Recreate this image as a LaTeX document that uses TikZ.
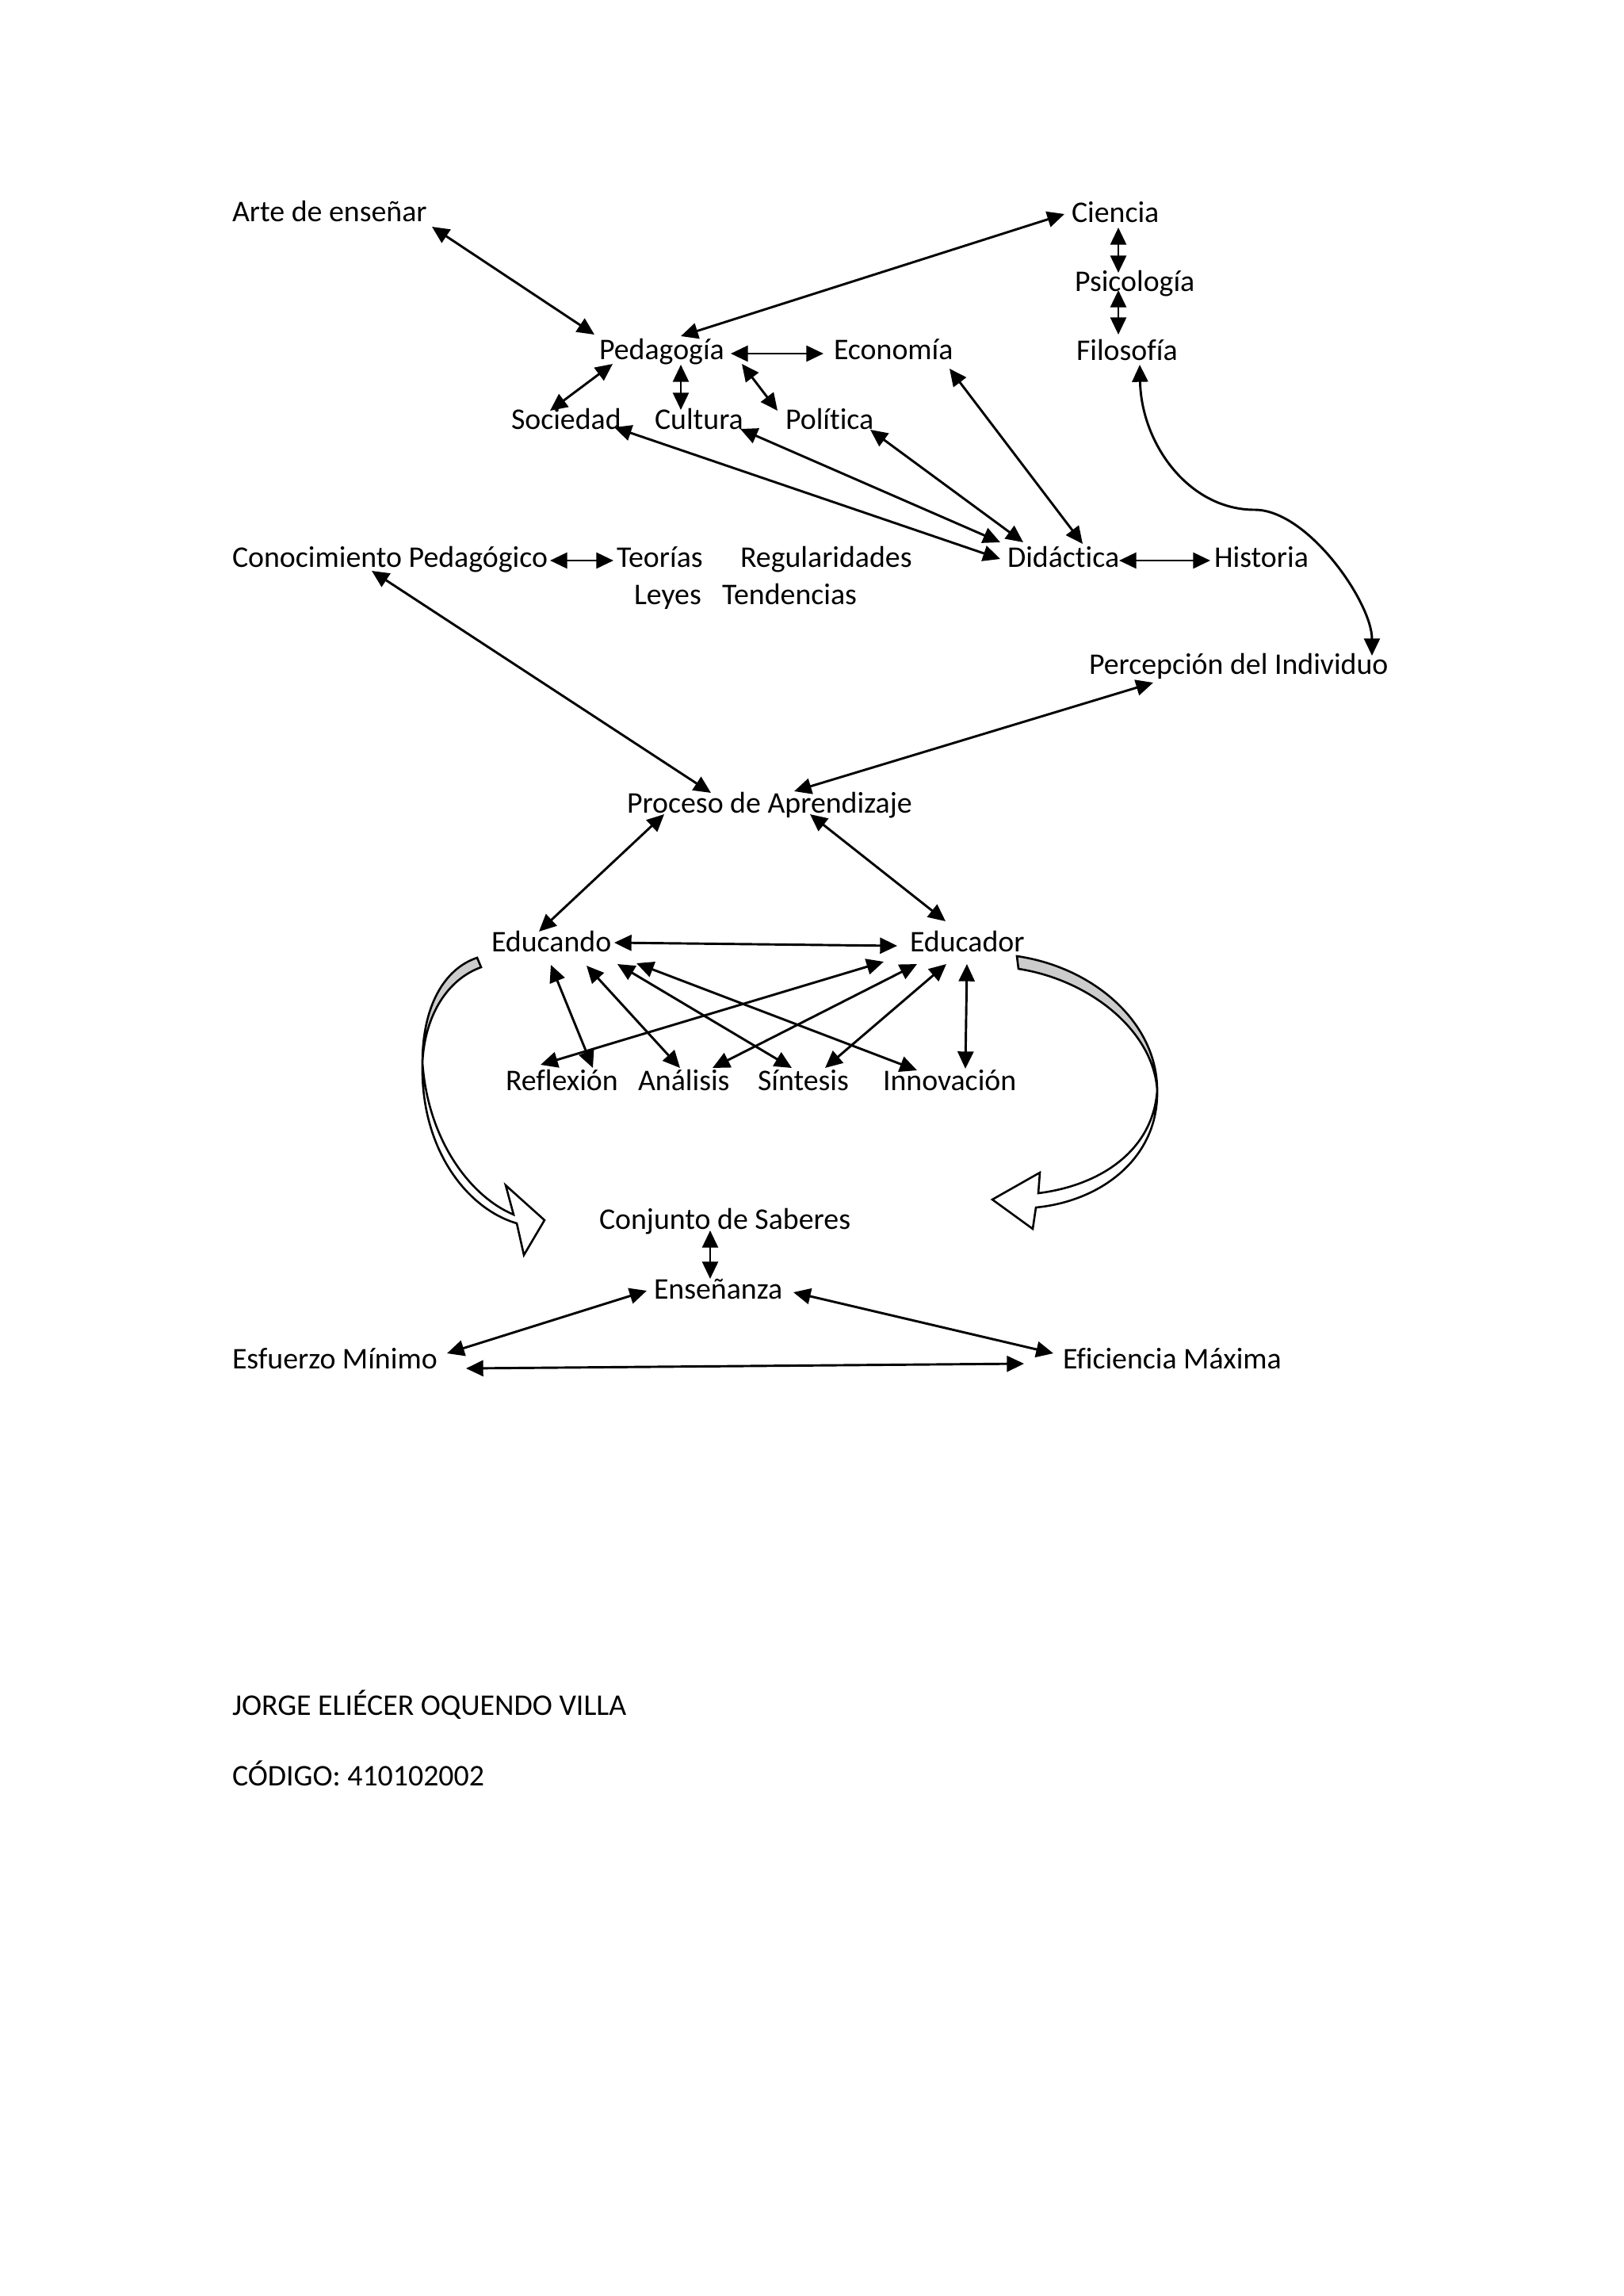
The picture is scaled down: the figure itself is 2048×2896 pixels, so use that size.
\documentclass[tikz,border=0pt]{standalone}
\usepackage{fontspec}
\setmainfont{Carlito}[Ligatures=CommonOff]
\usetikzlibrary{arrows.meta}
\begin{document}
\begin{tikzpicture}[x=0.290664pt,y=-0.290664pt,
  lbl/.style={anchor=base west,inner sep=0pt,outer sep=0pt,font=\fontsize{11pt}{13pt}\selectfont},
  arr/.style={line width=0.85pt,{Triangle[length=6.3pt,width=5.8pt]}-{Triangle[length=6.3pt,width=5.8pt]}},
  band/.style={draw=black,line width=0.75pt,line join=miter}]
\useasboundingbox (0,0) rectangle (2048,2896);

% labels
\node[lbl] (arte) at (293,279) {Arte de enseñar};
\node[lbl] (ciencia) at (1352,280) {Ciencia};
\node[lbl] (psico) at (1356,367) {Psicología};
\node[lbl] (filo) at (1358,454) {Filosofía};
\node[lbl] (ped) at (756,453) {Pedagogía};
\node[lbl] (eco) at (1052,453) {Economía};
\node[lbl] (soc) at (645,541) {Sociedad};
\node[lbl] (cul) at (826,541) {Cultura};
\node[lbl] (pol) at (991,541) {Política};
\node[lbl] (con) at (293,715) {Conocimiento Pedagógico};
\node[lbl] (teo) at (778,715) {Teorías};
\node[lbl] (reg) at (934,715) {Regularidades};
\node[lbl] (did) at (1271,715) {Didáctica};
\node[lbl] (his) at (1532,715) {Historia};
\node[lbl] (ley) at (800,762) {Leyes};
\node[lbl] (ten) at (911,762) {Tendencias};
\node[lbl] (per) at (1374,850) {Percepción del Individuo};
\node[lbl] (pro) at (791,1025) {Proceso de Aprendizaje};
\node[lbl] (edo) at (620,1200) {Educando};
\node[lbl] (edr) at (1148,1200) {Educador};
\node[lbl] (ref) at (638,1375) {Reflexión};
\node[lbl] (ana) at (805,1375) {Análisis};
\node[lbl] (sin) at (956,1375) {Síntesis};
\node[lbl] (inn) at (1114,1375) {Innovación};
\node[lbl] (cjs) at (756,1550) {Conjunto de Saberes};
\node[lbl] (ens) at (825,1638) {Enseñanza};
\node[lbl] (esf) at (293,1726) {Esfuerzo Mínimo};
\node[lbl] (efi) at (1341,1726) {Eficiencia Máxima};
\node[lbl] (jorge) at (293,2163) {JORGE ELIÉCER OQUENDO VILLA};
\node[lbl] (cod) at (293,2252) {CÓDIGO: 410102002};

% top connectors
\draw[arr] ([shift={(252,7)}]arte.base west) -- ([shift={(-6,-31)}]ped.base west);
\draw[arr] ([shift={(103,-29)}]ped.base west) -- ([shift={(-9,-10)}]ciencia.base west);
\draw[arr] ([shift={(166,-7)}]ped.base west) -- ([shift={(-13,-7)}]eco.base west);
\draw[arr] ([shift={(17,6)}]ped.base west) -- ([shift={(49,-23)}]soc.base west);
\draw[arr] ([shift={(103,7)}]ped.base west) -- ([shift={(33,-24)}]cul.base west);
\draw[arr] ([shift={(180,6)}]ped.base west) -- ([shift={(-10,-23)}]pol.base west);
\draw[arr] ([shift={(59,7)}]ciencia.base west) -- ([shift={(55,-23)}]psico.base west);
\draw[arr] ([shift={(55,-1)}]psico.base west) -- ([shift={(53,-32)}]filo.base west);
\draw[arr] ([shift={(80,6)}]filo.base west) .. controls (1440,560) and (1500,643) .. (1583,643)
   .. controls (1650,643) and (1731,760) .. ([shift={(357,-23)}]per.base west);
\draw[arr] ([shift={(146,12)}]eco.base west) -- ([shift={(95,-29)}]did.base west);
\draw[arr] ([shift={(130,-2)}]soc.base west) -- ([shift={(-9,-10)}]did.base west);
\draw[arr] ([shift={(108,0)}]cul.base west) -- ([shift={(-9,-31)}]did.base west);
\draw[arr] ([shift={(107,1)}]pol.base west) -- ([shift={(20,-31)}]did.base west);
\draw[arr] ([shift={(141,-8)}]did.base west) -- ([shift={(-5,-8)}]his.base west);
\draw[arr] ([shift={(401,-8)}]con.base west) -- ([shift={(-4,-8)}]teo.base west);

% middle connectors
\draw[arr] ([shift={(176,5)}]con.base west) -- ([shift={(106,-25)}]pro.base west);
\draw[arr] ([shift={(81,11)}]per.base west) -- ([shift={(211,-27)}]pro.base west);
\draw[arr] ([shift={(47,2)}]pro.base west) -- ([shift={(60,-25)}]edo.base west);
\draw[arr] ([shift={(231,2)}]pro.base west) -- ([shift={(45,-38)}]edr.base west);
\draw[arr] ([shift={(155,-11)}]edo.base west) -- ([shift={(-16,-7)}]edr.base west);
\draw[arr] ([shift={(75,17)}]edo.base west) -- ([shift={(110,-28)}]ref.base west);
\draw[arr] ([shift={(120,18)}]edo.base west) -- ([shift={(53,-28)}]ana.base west);
\draw[arr] ([shift={(159,16)}]edo.base west) -- ([shift={(43,-28)}]sin.base west);
\draw[arr] ([shift={(183,15)}]edo.base west) -- ([shift={(43,-25)}]inn.base west);
\draw[arr] ([shift={(-33,13)}]edr.base west) -- ([shift={(44,-32)}]ref.base west);
\draw[arr] ([shift={(9,16)}]edr.base west) -- ([shift={(94,-28)}]ana.base west);
\draw[arr] ([shift={(46,16)}]edr.base west) -- ([shift={(85,-28)}]sin.base west);
\draw[arr] ([shift={(72,16)}]edr.base west) -- ([shift={(104,-27)}]inn.base west);

% bottom connectors
\draw[arr] ([shift={(140,2)}]cjs.base west) -- ([shift={(71,-25)}]ens.base west);
\draw[arr] ([shift={(-9,-10)}]ens.base west) -- ([shift={(271,-19)}]esf.base west);
\draw[arr] ([shift={(176,-8)}]ens.base west) -- ([shift={(-12,-19)}]efi.base west);
\draw[arr] ([shift={(295,0)}]esf.base west) -- ([shift={(-49,-6)}]efi.base west);

% left curved block arrow
\filldraw[band,fill=black!20] (602,1208) .. controls (560,1222) and (533,1270) .. (533,1340)
   .. controls (536,1280) and (565,1235) .. (607,1220) -- cycle;
\filldraw[band,fill=white] (533,1340) .. controls (530,1450) and (590,1525) .. (652,1543)
   -- (661,1583) -- (687,1539) -- (638,1495) -- (648,1532)
   .. controls (595,1510) and (540,1440) .. (533,1340) -- cycle;

% right curved block arrow
\filldraw[band,fill=black!20] (1283,1206) .. controls (1380,1220) and (1460,1290) .. (1460,1375)
   .. controls (1455,1300) and (1375,1236) .. (1285,1222) -- cycle;
\filldraw[band,fill=white] (1460,1375) .. controls (1462,1460) and (1390,1515) .. (1307,1523)
   -- (1303,1550) -- (1252,1513) -- (1312,1479) -- (1310,1505)
   .. controls (1390,1495) and (1455,1450) .. (1460,1375) -- cycle;
\end{tikzpicture}
\end{document}
